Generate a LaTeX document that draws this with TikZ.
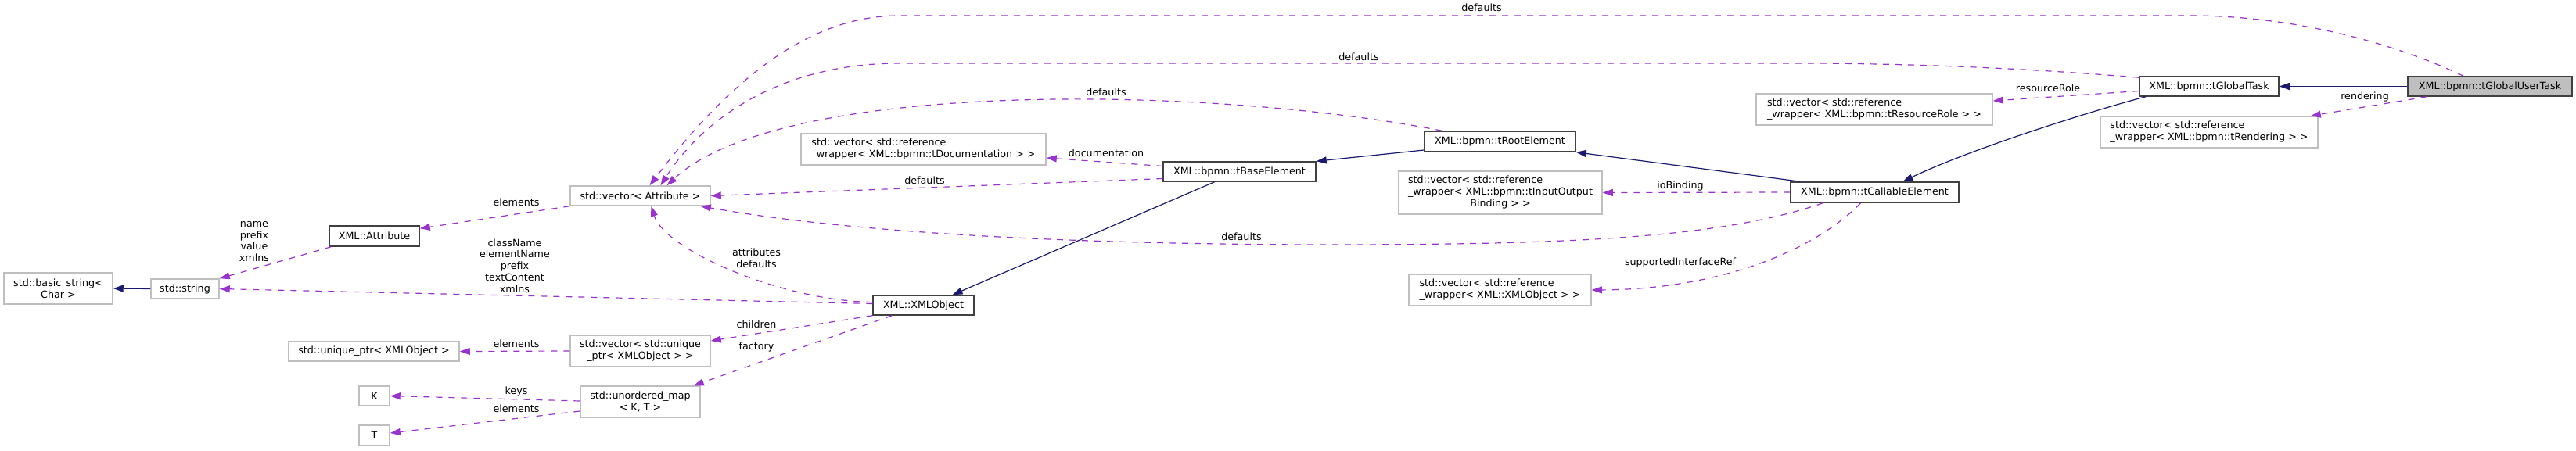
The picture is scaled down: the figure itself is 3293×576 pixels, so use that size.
\documentclass[tikz,border=0pt]{standalone}
\usepackage{fontspec}
\setmainfont{DejaVu Sans}
\usetikzlibrary{arrows.meta}
\definecolor{usecol}{HTML}{9A32CD}
\definecolor{inhcol}{HTML}{191970}
\definecolor{docbord}{HTML}{404040}
\definecolor{undoc}{HTML}{BFBFBF}
\begin{document}
\begin{tikzpicture}[x=1pt,y=-1pt,
  font=\fontsize{12.7}{14.8}\selectfont,
  docbox/.style={draw=docbord, line width=1.5pt, inner sep=0pt, fill=white},
  udbox/.style={draw=undoc, line width=1.5pt, inner sep=0pt, fill=white},
  lbl/.style={inner sep=0pt, align=center},
  inh/.style={draw=inhcol, line width=1.2pt, -{Triangle[length=13pt,width=9pt]}},
  usel/.style={draw=usecol, line width=1.2pt, dash pattern=on 8pt off 8pt, -{Triangle[length=13pt,width=9pt]}}]
\fill[white] (0,0) rectangle (3293,576);
\useasboundingbox (0,0) rectangle (3293,576);

% nodes
\node[udbox, minimum width=139pt, minimum height=40pt, align=center] (bstr) at (74.5,369) {std::basic\_string<\\Char >};
\node[udbox, minimum width=87pt, minimum height=25pt] (str) at (236.5,369.5) {std::string};
\node[docbox, minimum width=115pt, minimum height=26pt] (xattr) at (478.5,302) {XML::Attribute};
\node[udbox, minimum width=218pt, minimum height=25pt] (uptr) at (478,449.5) {std::unique\_ptr< XMLObject >};
\node[udbox, minimum width=39pt, minimum height=25pt] (K) at (478.5,506.5) {K};
\node[udbox, minimum width=39pt, minimum height=26pt] (T) at (478.5,557) {T};
\node[udbox, minimum width=179pt, minimum height=25pt] (vattr) at (818.5,250.5) {std::vector< Attribute >};
\node[udbox, minimum width=179pt, minimum height=40pt, align=center] (vuptr) at (818.5,449) {std::vector< std::unique\\\_ptr< XMLObject > >};
\node[udbox, minimum width=153pt, minimum height=40pt, align=center] (umap) at (818.5,514) {std::unordered\_map\\< K, T >};
\node[docbox, minimum width=129pt, minimum height=25pt] (xmlobj) at (1180.5,390.5) {XML::XMLObject};
\node[udbox, minimum width=313pt, minimum height=40pt, align=left] (vdoc) at (1180.5,191) {std::vector< std::reference\\\_wrapper< XML::bpmn::tDocumentation > >};
\node[docbox, minimum width=195pt, minimum height=25pt] (tbase) at (1584.5,219.5) {XML::bpmn::tBaseElement};
\node[docbox, minimum width=193pt, minimum height=26pt] (troot) at (1917.5,181) {XML::bpmn::tRootElement};
\node[udbox, minimum width=260pt, minimum height=55pt] (vio) at (1918,246.5) {\begin{tabular}{@{}l@{}}std::vector< std::reference\\\_wrapper< XML::bpmn::tInputOutput\\\multicolumn{1}{@{}c@{}}{Binding > >}\end{tabular}};
\node[udbox, minimum width=233pt, minimum height=40pt, align=left] (vxref) at (1917.5,371) {std::vector< std::reference\\\_wrapper< XML::XMLObject > >};
\node[docbox, minimum width=215pt, minimum height=26pt] (tcall) at (2396.5,246) {XML::bpmn::tCallableElement};
\node[udbox, minimum width=302pt, minimum height=40pt, align=left] (vres) at (2396,140) {std::vector< std::reference\\\_wrapper< XML::bpmn::tResourceRole > >};
\node[docbox, minimum width=178pt, minimum height=25pt] (tgt) at (2824,110.5) {XML::bpmn::tGlobalTask};
\node[udbox, minimum width=278pt, minimum height=40pt, align=left] (vrend) at (2824,169) {std::vector< std::reference\\\_wrapper< XML::bpmn::tRendering > >};
\node[docbox, fill=undoc, minimum width=210pt, minimum height=25pt] (tgut) at (3183,110.5) {XML::bpmn::tGlobalUserTask};

% inheritance
\draw[inh] (str.west) -- (bstr.east);
\draw[inh] ([xshift=-32pt]tbase.south) -- ([xshift=37pt]xmlobj.north);
\draw[inh] ([yshift=-11pt]troot.west) -- (tbase.north east);
\draw[inh] ([xshift=13pt]tcall.north west) -- (troot.south east);
\draw[inh] ([xshift=-81pt]tgt.south) .. controls (2680,140) and (2520,190) .. ([xshift=36pt]tcall.north);
\draw[inh] (tgut.west) -- (tgt.east);

% usage
\draw[usel] ([xshift=3pt]xattr.south west) -- (str.north east);
\draw[usel] (vattr.south west) -- ([yshift=-4pt]xattr.north east);
\draw[usel] ([yshift=2pt]xmlobj.west) -- (str.east);
\draw[usel] ([yshift=4pt]xmlobj.west) .. controls (1000,385) and (850,320) .. ([xshift=14pt]vattr.south);
\draw[usel] (xmlobj.south west) -- ([yshift=13pt]vuptr.east);
\draw[usel] ([xshift=25pt]xmlobj.south west) -- ([xshift=-9pt]umap.north east);
\draw[usel] (vuptr.west) -- (uptr.east);
\draw[usel] ([yshift=1pt]umap.west) -- (K.east);
\draw[usel] ([yshift=-12pt]umap.west) -- ([yshift=3pt]T.east);
\draw[usel] ([yshift=-9pt]tbase.west) -- (vattr.east);
\draw[usel] ([yshift=7pt]tbase.west) -- ([yshift=-11pt]vdoc.east);
\draw[usel] ([xshift=23pt]troot.north west) .. controls (1550,110) and (1000,100) .. ([xshift=34pt]vattr.north);
\draw[usel] ([xshift=42pt]tcall.south west) .. controls (2200,305) and (2000,313) .. (1700,313) .. controls (1400,313) and (1100,300) .. ([xshift=-13pt]vattr.south east);
\draw[usel] (tcall.west) -- (vio.east);
\draw[usel] ([xshift=-18pt]tcall.south) .. controls (2320,320) and (2200,370) .. (vxref.east);
\draw[usel] ([yshift=-2pt]tgt.north west) .. controls (2600,88) and (2450,81) .. (2300,81) -- (1150,81) .. controls (1000,81) and (900,150) .. ([xshift=26pt]vattr.north);
\draw[usel] ([yshift=-6pt]tgt.west) -- ([yshift=11pt]vres.east);
\draw[usel] ([xshift=25pt]tgut.south west) -- ([xshift=-10pt]vrend.north east);
\draw[usel] ([xshift=-34pt]tgut.north) .. controls (3050,50) and (2920,20) .. (2800,20) -- (1150,20) .. controls (1050,20) and (950,80) .. ([xshift=12pt]vattr.north);

% labels
\node[lbl] (lnpvx) at (325,309) {name\\prefix\\value\\xmlns};
\node[lbl] (lel1) at (660,259) {elements};
\node[lbl] (lcn) at (658,340) {className\\elementName\\prefix\\textContent\\xmlns};
\node[lbl] (lel2) at (660,440) {elements};
\node[lbl] (lkeys) at (660,501) {keys};
\node[lbl] (lel3) at (660,523) {elements};
\node[lbl] (lad) at (967,330) {attributes\\defaults};
\node[lbl] (lch) at (967,415) {children};
\node[lbl] (lfa) at (967,444) {factory};
\node[lbl] (ldef1) at (1182,231) {defaults};
\node[lbl] (ldoc) at (1414,196) {documentation};
\node[lbl] (ldef2) at (1414,118) {defaults};
\node[lbl] (ldef3) at (1737,73) {defaults};
\node[lbl] (ldef4) at (1894,10) {defaults};
\node[lbl] (ldef5) at (1587,303) {defaults};
\node[lbl] (lio) at (2148,238) {ioBinding};
\node[lbl] (lsir) at (2148,336) {supportedInterfaceRef};
\node[lbl] (lrr) at (2618,113) {resourceRole};
\node[lbl] (lrend) at (3023,124) {rendering};
\end{tikzpicture}
\end{document}
